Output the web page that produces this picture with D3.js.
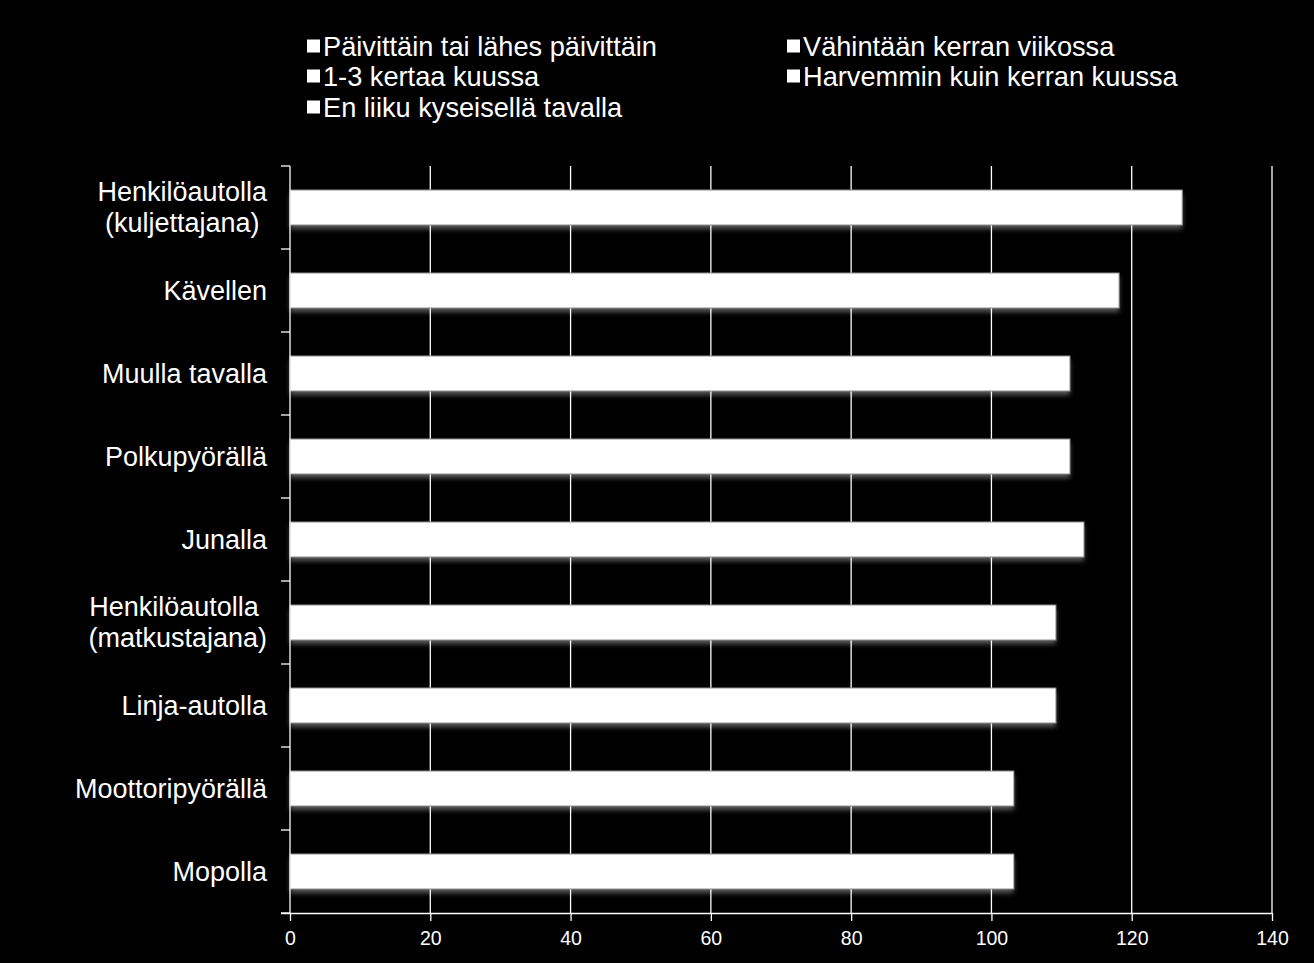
<!DOCTYPE html>
<html><head><meta charset="utf-8">
<script src="https://cdn.jsdelivr.net/npm/d3@7"></script>
<style>
body{margin:0;background:#000;}
svg{display:block;}
text{font-family:"Liberation Sans",Arial,sans-serif;fill:#fff;white-space:pre;}
</style>
</head><body>
<svg id="c" width="1314" height="963"></svg>
<script>
// ---- data ----
const categories = [
  "Henkilöautolla\n(kuljettajana)",
  "Kävellen",
  "Muulla tavalla",
  "Polkupyörällä",
  "Junalla",
  "Henkilöautolla \n(matkustajana)",
  "Linja-autolla",
  "Moottoripyörällä",
  "Mopolla"
];
const seriesNames = [
  "Päivittäin tai lähes päivittäin",
  "Vähintään kerran viikossa",
  "1-3 kertaa kuussa",
  "Harvemmin kuin kerran kuussa",
  "En liiku kyseisellä tavalla"
];
const daily      = [93.4, 38.2, 19.1, 19.1, 16.1, 13.1,  3.1,  1.0,  1.0];
const weekly     = [15.8, 20.0, 12.1, 12.1,  3.1, 22.0,  3.1,  1.0,  1.0];
const monthly    = [ 7.1, 16.9, 12.0, 12.0, 11.1, 20.1,  5.0,  1.1,  1.0];
const rarely     = [ 2.8, 22.2, 46.1, 46.1, 50.0, 30.0, 23.1,  4.0,  4.0];
const never      = [ 8.1, 20.9, 21.9, 21.9, 32.9, 24.0, 74.9, 96.1, 96.2];
const xTicks = [0, 20, 40, 60, 80, 100, 120, 140];

// ---- build table ----
const seriesValues = [daily, weekly, monthly, rarely, never];
const table = categories.map((c, i) => {
  const row = {category: c};
  seriesNames.forEach((s, j) => row[s] = seriesValues[j][i]);
  return row;
});

const svg = d3.select("#c");
svg.append("rect").attr("width", 1314).attr("height", 963).attr("fill", "#000");

const defs = svg.append("defs");
const f = defs.append("filter").attr("id", "sh").attr("x", "-5%").attr("y", "-30%").attr("width", "110%").attr("height", "170%");
f.append("feDropShadow").attr("dx", 0).attr("dy", 4).attr("stdDeviation", 2.5)
  .attr("flood-color", "#fff").attr("flood-opacity", 0.35);

const plot = {left: 290, right: 1272, top: 166, bottom: 913};

const x = d3.scaleLinear().domain([0, 140]).range([plot.left, plot.right]);
const y = d3.scaleBand().domain(categories).range([plot.top, plot.bottom])
  .paddingInner(0.578).paddingOuter(0.289);

// gridlines
svg.append("g").selectAll("line").data(xTicks.filter(t => t > 0)).join("line")
  .attr("x1", d => x(d)).attr("x2", d => x(d))
  .attr("y1", plot.top).attr("y2", plot.bottom)
  .attr("stroke", "#fff").attr("stroke-width", 1.3);

// stacked bars
const stack = d3.stack().keys(seriesNames)(table);
const barsG = svg.append("g");
barsG.append("g").selectAll("rect").data(table).join("rect")
  .attr("x", x(0))
  .attr("y", d => y(d.category))
  .attr("width", d => x(d3.sum(seriesNames, s => d[s])) - x(0))
  .attr("height", y.bandwidth())
  .attr("fill", "#fff")
  .attr("filter", "url(#sh)");
stack.forEach(layer => {
  barsG.append("g").selectAll("rect").data(layer).join("rect")
    .attr("x", d => x(d[0]))
    .attr("y", d => y(d.data.category))
    .attr("width", d => x(d[1]) - x(d[0]))
    .attr("height", y.bandwidth())
    .attr("fill", "#fff");
});
barsG.append("g").selectAll("rect").data(table).join("rect")
  .attr("x", x(0))
  .attr("y", d => y(d.category))
  .attr("width", d => x(d3.sum(seriesNames, s => d[s])) - x(0))
  .attr("height", y.bandwidth())
  .attr("fill", "none")
  .attr("stroke", "#8a8a8a").attr("stroke-width", 1);

// y axis line & ticks at band boundaries
svg.append("line").attr("x1", plot.left).attr("x2", plot.left)
  .attr("y1", plot.top).attr("y2", plot.bottom)
  .attr("stroke", "#fff").attr("stroke-width", 1.3);
const boundaries = d3.range(categories.length + 1).map(i => plot.top + i * y.step());
svg.append("g").selectAll("line").data(boundaries).join("line")
  .attr("x1", plot.left - 9).attr("x2", plot.left)
  .attr("y1", d => d).attr("y2", d => d)
  .attr("stroke", "#fff").attr("stroke-width", 1.3);

// x axis
const xAxis = svg.append("g").attr("transform", `translate(0,${plot.bottom})`)
  .call(d3.axisBottom(x).tickValues(xTicks).tickSize(8).tickPadding(10).tickSizeOuter(0));
xAxis.select(".domain").attr("stroke", "#fff").attr("stroke-width", 1.3)
  .attr("d", `M${plot.left - 9},0.5H${plot.right}`);
xAxis.selectAll(".tick line").attr("stroke", "#fff").attr("stroke-width", 1.3);
xAxis.selectAll(".tick text").attr("fill", "#fff")
  .style("font-size", "19.5px").style("font-family", '"Liberation Sans",Arial,sans-serif');

// category labels
const labelRight = 267;
const lineH = 31;
categories.forEach(c => {
  const lines = c.split("\n");
  const cy = y(c) + y.bandwidth() / 2;
  const g = svg.append("g");
  const texts = lines.map((ln, i) => g.append("text")
    .attr("y", cy + (i - (lines.length - 1) / 2) * lineH)
    .attr("dy", "0.35em")
    .style("font-size", "27px")
    .text(ln));
  const widths = texts.map(t => t.node().getComputedTextLength());
  const maxW = d3.max(widths);
  texts.forEach(t => t.attr("x", labelRight - maxW / 2).attr("text-anchor", "middle"));
});

// legend
const legendPos = [[307, 46], [787, 46], [307, 76], [787, 76], [307, 107]];
seriesNames.forEach((s, i) => {
  const [lx, ly] = legendPos[i];
  svg.append("rect").attr("x", lx).attr("y", ly - 6.5).attr("width", 13).attr("height", 13)
    .attr("fill", "#fff");
  svg.append("text").attr("x", lx + 16).attr("y", ly).attr("dy", "0.35em")
    .style("font-size", "27.2px").text(s);
});
</script>
</body></html>
